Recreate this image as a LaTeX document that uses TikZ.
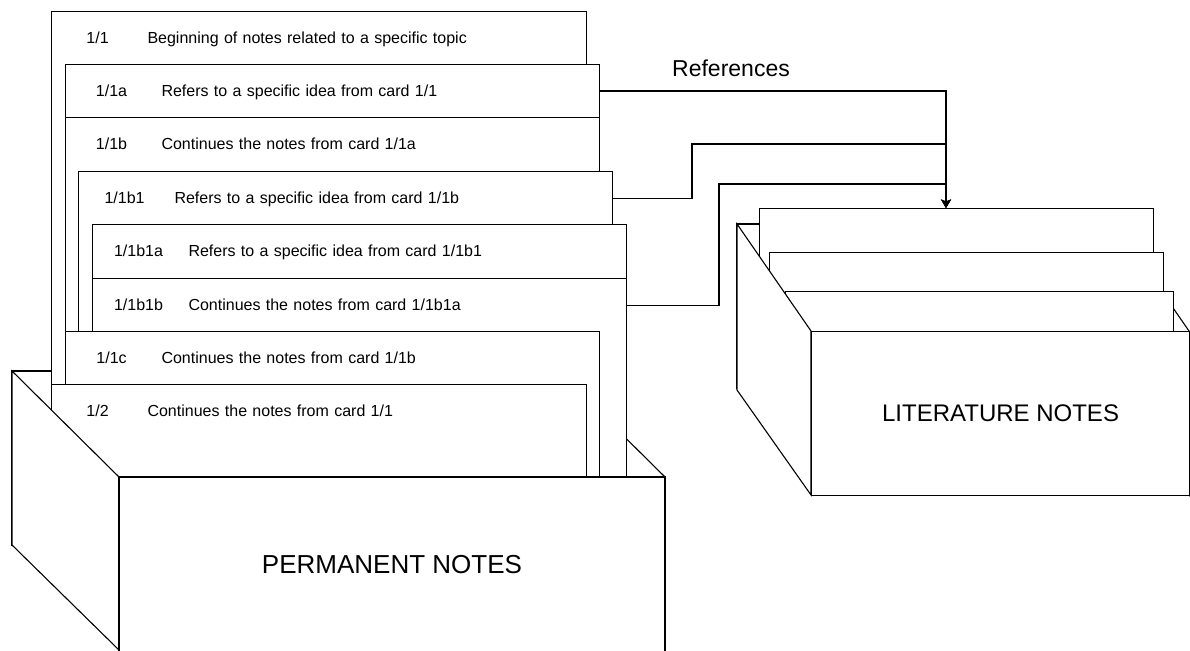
\documentclass[tikz,border=0pt]{standalone}
\usepackage{fontspec}
\setmainfont{Liberation Sans}
\usetikzlibrary{calc,arrows.meta}
% number column of a card header: 92pt wide, centred, then a small gap
\newcommand\cardno[1]{\makebox[92pt]{#1}\hspace*{4pt}}
\begin{document}
\begin{tikzpicture}[x=1pt,y=-1pt,line width=1.1pt,
  cardbody/.style={draw,fill=white,anchor=north west,inner sep=0pt,minimum width=#1},
  hdr/.style={anchor=north west,inner sep=0pt,minimum height=53pt,text width=#1,
    align=left,text height=13pt,text depth=3pt,font=\fontsize{16}{19}\selectfont},
  wall/.style={draw,fill=white,line join=miter},
  face/.style={draw,fill=white,anchor=north west,inner sep=0pt},
  ref/.style={draw,-{Stealth[length=8.5pt,width=10pt,inset=2pt]}}
]
\useasboundingbox (0,0) rectangle (1190,650);

% ---------- permanent notes box: back and inner right wall ----------
\filldraw[wall] (12,371) rectangle (558,545);
\filldraw[wall] (558,371) -- (665,477) -- (665,660) -- (558,545) -- cycle;

% ---------- permanent note cards, back to front ----------
\node[cardbody=535pt,minimum height=549pt] (c11) at (51,11) {};
\node[hdr=535pt] (h11) at (c11.north west) {\cardno{1/1}Beginning of notes related to a specific topic};

\node[cardbody=534pt,minimum height=496pt] (c11a) at (65,64) {};
\node[hdr=534pt] (h11a) at (c11a.north west) {\cardno{1/1a}Refers to a specific idea from card 1/1};

\node[cardbody=534pt,minimum height=443pt] (c11b) at (65,117) {};
\node[hdr=534pt] (h11b) at (c11b.north west) {\cardno{1/1b}Continues the notes from card 1/1a};

\node[cardbody=534pt,minimum height=389pt] (c11b1) at (78,171) {};
\node[hdr=534pt] (h11b1) at (c11b1.north west) {\cardno{1/1b1}Refers to a specific idea from card 1/1b};

\node[cardbody=534pt,minimum height=336pt] (c11b1a) at (92,224) {};
\node[hdr=534pt] (h11b1a) at (c11b1a.north west) {\cardno{1/1b1a}Refers to a specific idea from card 1/1b1};

\node[cardbody=534pt,minimum height=282pt] (c11b1b) at (92,278) {};
\node[hdr=534pt] (h11b1b) at (c11b1b.north west) {\cardno{1/1b1b}Continues the notes from card 1/1b1a};

\node[cardbody=534pt,minimum height=229pt] (c11c) at (65,331) {};
\node[hdr=534pt] (h11c) at (c11c.north west) {\cardno{1/1c}Continues the notes from card 1/1b};

\node[cardbody=535pt,minimum height=176pt] (c12) at (51,384) {};
\node[hdr=535pt] (h12) at (c12.north west) {\cardno{1/2}Continues the notes from card 1/1};

% ---------- permanent notes box: outer left wall and front (cut by the page edge) ----------
\filldraw[wall] (12,371) -- (119,477) -- (119,660) -- (119,650) -- (12,545) -- cycle;
\draw[wall] (119,660) -- (119,477) -- (665,477) -- (665,660);
\node[anchor=base,inner sep=0pt,font=\fontsize{26}{30}\selectfont] (pface) at (392,573.5) {PERMANENT NOTES};

% ---------- literature notes box ----------
\filldraw[wall] (737,224) rectangle (1115,388);
\filldraw[wall] (1115,224) -- (1189,331) -- (1189,495) -- (1115,388) -- cycle;

\node[cardbody=394pt,minimum height=192pt] (lc1) at (759,208) {};
\node[cardbody=394pt,minimum height=148pt] (lc2) at (769,252) {};
\node[cardbody=388pt,minimum height=109pt] (lc3) at (785,291) {};

\filldraw[wall] (737,224) -- (811,331) -- (811,495) -- (737,390) -- cycle;
\node[face,minimum width=378pt,minimum height=164pt,font=\fontsize{24}{28}\selectfont] (lface) at (811,331) {LITERATURE NOTES};

% ---------- references ----------
\coordinate (tip) at ($(lc1.north west)+(187,0)$);
\coordinate (bend1) at (692,144);
\coordinate (bend2) at (719,184);

\draw[ref] (h11a.east) -| (tip);
\draw[ref] (h11b1.east) -| (bend1) -| (tip);
\draw[ref] (h11b1b.east) -| (bend2) -| (tip);

\node[anchor=base,inner sep=0pt,font=\fontsize{23}{27}\selectfont] (reflabel) at (731,77) {References};
\end{tikzpicture}
\end{document}
